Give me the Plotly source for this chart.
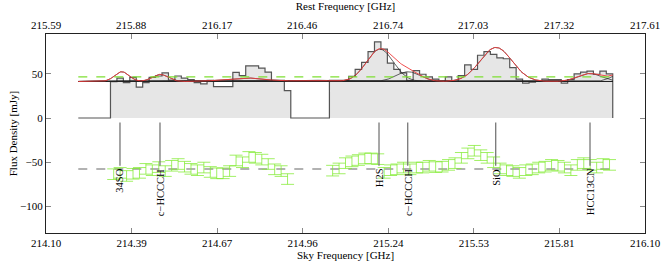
import plotly.graph_objects as go
import math

# ---------------- data ----------------
# spectral channels (sky frequency, GHz)
chan_start = 214.2078      # left edge of first channel
chan_width = 0.0215        # channel width
flux = [0, 0, 0, 0, 0,
        41, 45, 40, 46, 35, 40, 46, 47.5, 51, 43, 47.5, 45, 43.5, 40, 38.5, 42.5,
        35.5, 35.5, 35.5, 51.5, 48, 59, 59, 56.5, 52, 42.5, 42.5, 31,
        0, 0, 0, 0, 0, 0,
        42.5, 42.5, 42.5, 47, 55, 63, 75, 86, 78, 62, 55, 51, 42.5, 53.5, 49.5,
        46.5, 44, 41.5, 46.5, 41.5, 48, 60, 55, 71, 75, 72, 68, 67, 57, 44, 39.5,
        40.5, 41.5, 44, 43.5, 43.5, 39.5, 43.5, 50, 52, 53, 49.5, 53, 50]

residual = [None] * 5 + [
    -63.5, -62, -65.5, -63, -62, -57.5, -59, -55.5, -60, -54, -52, -55, -57.5,
    -59, -56, -61, -62.5, -62.5, -60, -48, -50, -44, -45, -47, -52, -58, -60, -69,
] + [None] * 6 + [
    -59.5, -57, -51, -49, -47.5, -45.7, -45.7, -46.5, -62, -59, -58, -56, -58,
    -56, -56, -54, -55.5, -55, -53, -51, -45, -40, -37, -42, -45, -50, -57, -59,
    -60, -62, -59, -58, -56, -55, -53, -54, -56, -59, -53, -51, -53, -56, -52,
    -53, -54,
]
residual_err = 6.0
residual_offset = -57.7
continuum = 41.3
threshold = 46.5

# fitted Gaussian components (sky GHz, mJy, GHz sigma)
comp_center = [214.353, 214.481, 214.764, 214.990, 215.215, 215.309, 215.6025, 215.916, 216.023]
comp_amp = [11, 8, 4, 1.5, 36.5, 11, 38.5, 9, 9]
comp_sigma = [0.024, 0.026, 0.067, 0.05, 0.045, 0.040, 0.0534, 0.040, 0.033]

# line identifications
line_names = ["34SO", "c\u2212HCCCH", "H2S", "c\u2212HCCCH", "SiO", "HCC13CN"]
line_sky = [214.347, 214.4806, 215.2119, 215.3077, 215.6015, 215.9164]

# axes
sky_ticks = [214.10, 214.386, 214.671, 214.957, 215.243, 215.529, 215.814, 216.10]
sky_labels = ["214.10", "214.39", "214.67", "214.96", "215.24", "215.53", "215.81", "216.10"]
rest_ticks = [215.59, 215.879, 216.167, 216.456, 216.744, 217.033, 217.321, 217.61]
rest_labels = ["215.59", "215.88", "216.17", "216.46", "216.74", "217.03", "217.32", "217.61"]
y_ticks = [-100, -50, 0, 50]

# ---------------- figure ----------------
n = len(flux)
edges = [chan_start + i * chan_width for i in range(n + 1)]
centers = [chan_start + (i + 0.5) * chan_width for i in range(n)]
hx = edges[:n] + [edges[n]]
hy = flux + [0]

xs = [edges[0] + (edges[-1] - edges[0]) * i / 600 for i in range(601)]

def gauss(x, c, a, s):
    return a * math.exp(-0.5 * ((x - c) / s) ** 2)

FONT = "Liberation Serif"
fig = go.Figure()

fig.add_trace(go.Scatter(x=hx, y=hy, mode="lines", line=dict(shape="hv", color="#555555", width=1.2),
                         fill="tozeroy", fillcolor="#e6e6e6", hoverinfo="skip", showlegend=False))

for c, a, s in zip(comp_center, comp_amp, comp_sigma):
    fig.add_trace(go.Scatter(x=xs, y=[continuum + gauss(x, c, a, s) for x in xs], mode="lines",
                             line=dict(color="#222222", width=0.7), showlegend=False, hoverinfo="skip"))

total = [continuum + sum(gauss(x, c, a, s) for c, a, s in zip(comp_center, comp_amp, comp_sigma)) for x in xs]
fig.add_trace(go.Scatter(x=xs, y=total, mode="lines", line=dict(color="#ee3a3a", width=0.9),
                         showlegend=False, hoverinfo="skip"))

fig.add_trace(go.Scatter(x=[edges[0], edges[-1]], y=[threshold, threshold], mode="lines",
                         line=dict(color="#7fe033", width=1.4, dash="dash"), showlegend=False))
fig.add_trace(go.Scatter(x=[edges[0], edges[-1]], y=[residual_offset, residual_offset], mode="lines",
                         line=dict(color="#999999", width=1.6, dash="dash"), showlegend=False))

fig.add_trace(go.Scatter(x=centers, y=residual, mode="markers", marker=dict(size=0.1, color="rgba(0,0,0,0)"),
                         error_y=dict(type="constant", value=residual_err, width=6.5, thickness=1,
                                      color="rgba(130,235,50,0.75)"),
                         showlegend=False, hoverinfo="skip"))

for name, lx in zip(line_names, line_sky):
    fig.add_trace(go.Scatter(x=[lx, lx], y=[-5, -54], mode="lines", line=dict(color="#777777", width=1.3),
                             showlegend=False, hoverinfo="skip"))
    fig.add_annotation(x=lx, y=-55, text=name, textangle=-90, showarrow=False, xanchor="center",
                       yanchor="top", font=dict(family=FONT, size=10.5, color="black"))

# top-axis tick labels placed close to the axis line
for tv, tl in zip(rest_ticks, rest_labels):
    fig.add_annotation(x=tv, xref="x2", y=1, yref="paper", yanchor="bottom", yshift=1, text=tl,
                       showarrow=False, font=dict(family=FONT, size=11, color="black"))

fig.add_trace(go.Scatter(x=[rest_ticks[0], rest_ticks[-1]], y=[None, None], xaxis="x2", showlegend=False))

axis_common = dict(showgrid=False, zeroline=False, ticks="inside", ticklen=5, tickcolor="#888888",
                   showline=True, linecolor="#222222", linewidth=1.2, automargin=False,
                   tickfont=dict(family=FONT, size=11, color="black"))

fig.update_layout(
    width=664, height=266, margin=dict(l=46, r=19, t=34, b=33, autoexpand=False),
    paper_bgcolor="white", plot_bgcolor="white",
    xaxis=dict(range=[214.10 - 1e-6, 216.10 + 1e-6], tickvals=sky_ticks, ticktext=sky_labels, mirror=True,
               title=dict(text="Sky Frequency [GHz]", font=dict(family=FONT, size=11, color="black"), standoff=0),
               **axis_common),
    xaxis2=dict(range=[215.59 - 1e-6, 217.61 + 1e-6], tickvals=rest_ticks, showticklabels=False,
                overlaying="x", side="top", anchor="y",
                title=dict(text="Rest Frequency [GHz]", font=dict(family=FONT, size=11, color="black"), standoff=20),
                **axis_common),
    yaxis=dict(range=[-130, 95], tickvals=y_ticks, mirror="ticks",
               title=dict(text="Flux Density [mJy]", font=dict(family=FONT, size=11, color="black"), standoff=0),
               **axis_common),
)

fig.write_html("out.html", config={"displayModeBar": False},
               post_script="document.body.style.margin='0';document.body.style.overflow='hidden';")
